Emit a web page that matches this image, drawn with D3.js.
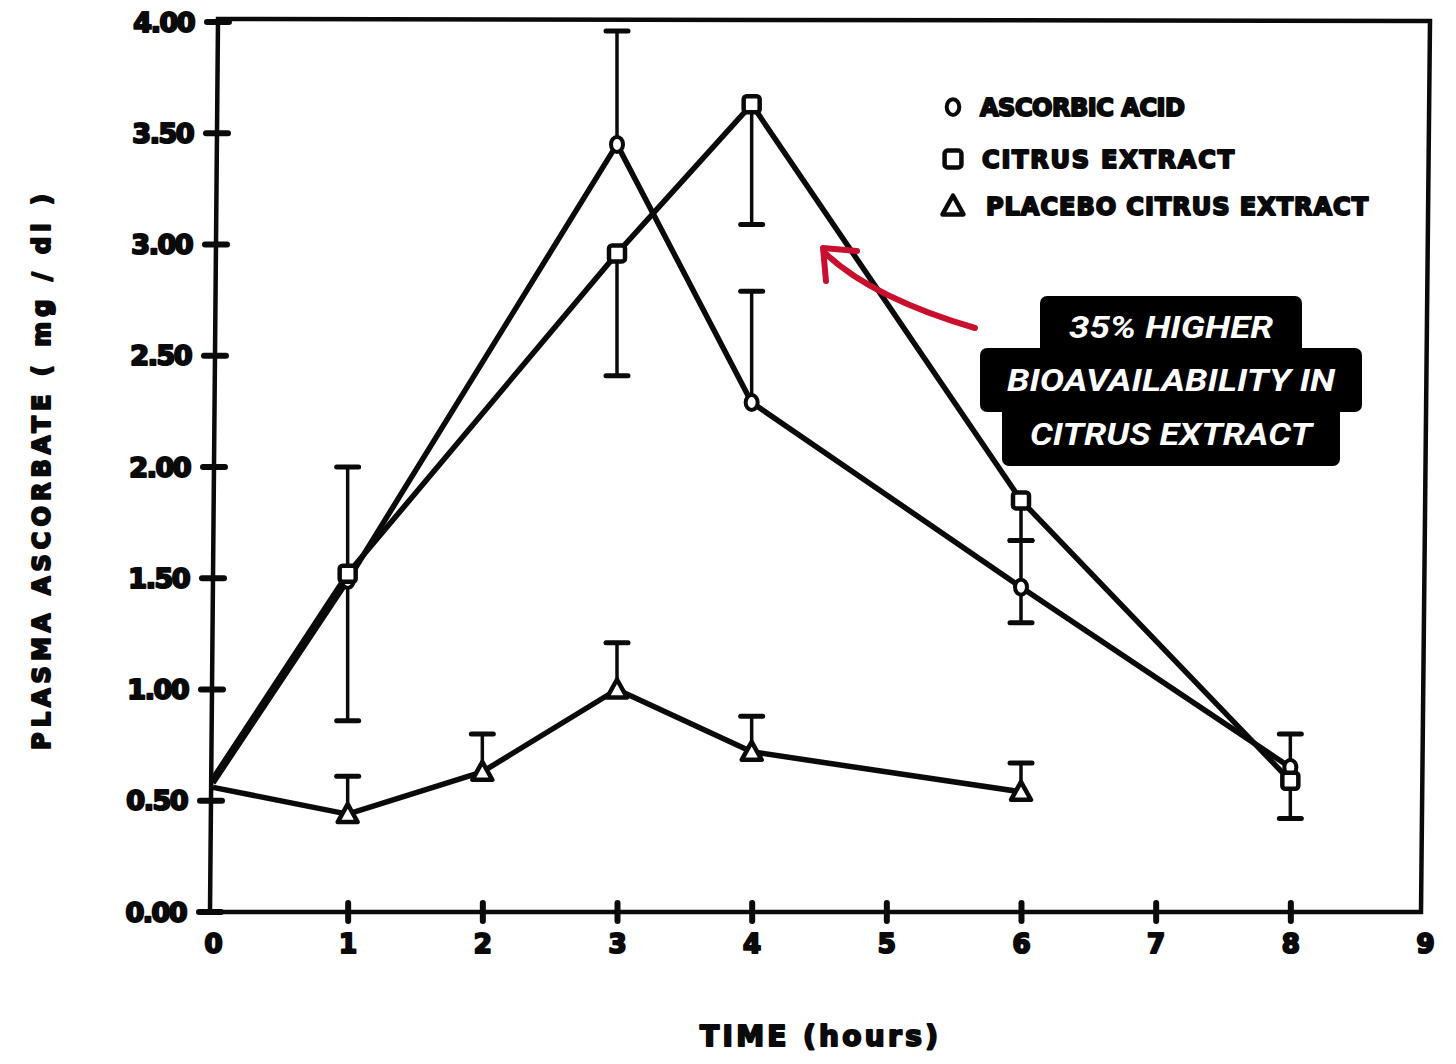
<!DOCTYPE html>
<html>
<head>
<meta charset="utf-8">
<script src="https://cdn.jsdelivr.net/npm/d3@7"></script>
<style>
  html, body { margin: 0; padding: 0; background: #fff; }
  svg { display: block; }
</style>
</head>
<body>
<svg id="chart" width="1456" height="1064"></svg>
<script>
// ---------- DATA ----------
const xTickValues = [0, 1, 2, 3, 4, 5, 6, 7, 8, 9];
const xTickLabels = ["0", "1", "2", "3", "4", "5", "6", "7", "8", "9"];
const yTickValues = [0, 0.5, 1, 1.5, 2, 2.5, 3, 3.5, 4];
const yTickLabels = ["0.00", "0.50", "1.00", "1.50", "2.00", "2.50", "3.00", "3.50", "4.00"];

const ascorbicTimes = [0, 1, 3, 4, 6, 8];
const ascorbicValues = [0.58, 1.49, 3.45, 2.29, 1.46, 0.65];
const ascorbicHigh = [null, 2.00, 3.96, 2.79, 1.67, 0.80];
const ascorbicLow = [null, 0.86, null, null, 1.30, null];

const citrusTimes = [0, 1, 3, 4, 6, 8];
const citrusValues = [0.60, 1.52, 2.96, 3.63, 1.85, 0.59];
const citrusHigh = [null, null, null, null, null, null];
const citrusLow = [null, null, 2.41, 3.09, 1.67, 0.42];

const placeboTimes = [0, 1, 2, 3, 4, 6];
const placeboValues = [0.56, 0.44, 0.63, 1.00, 0.72, 0.54];
const placeboHigh = [null, 0.61, 0.80, 1.21, 0.88, 0.67];
const placeboLow = [null, null, null, null, null, null];

const legendLabels = ["ASCORBIC ACID", "CITRUS EXTRACT", "PLACEBO CITRUS EXTRACT"];
const xAxisTitle = "TIME (hours)";
const yAxisTitle = "PLASMA ASCORBATE ( mg / dl )";
const calloutLines = ["35% HIGHER", "BIOAVAILABILITY IN", "CITRUS EXTRACT"];

// ---------- SETUP ----------
const svg = d3.select("#chart");
const x = d3.scaleLinear().domain([0, 9]).range([213, 1425]);
const y = d3.scaleLinear().domain([0, 4]).range([912, 22]);
const ink = "#0a0a0a";
const tickFont = "'DejaVu Sans', sans-serif";

// left axis is slightly skewed in the scan
const leftX = yy => 210 + (912 - yy) / (912 - 20) * 8;

function inkText(sel, w) {
  return sel.attr("fill", ink).attr("stroke", ink).attr("stroke-width", w)
    .attr("stroke-linejoin", "round").attr("paint-order", "stroke");
}

// ---------- FRAME ----------
svg.append("path")
  .attr("d", `M${leftX(19)},19 L1430,21 L1421,912 L210,912 Z`)
  .attr("fill", "none").attr("stroke", ink).attr("stroke-width", 4.5)
  .attr("stroke-linejoin", "miter");

// ---------- AXES ----------
const yAxis = d3.axisLeft(y).tickValues(yTickValues)
  .tickFormat((d, i) => yTickLabels[i]).tickSize(0).tickPadding(0);
const yg = svg.append("g").call(yAxis);
yg.select(".domain").remove();
yg.selectAll(".tick").each(function(d) {
  const g = d3.select(this);
  const yy = y(d);
  g.attr("transform", `translate(${leftX(yy)},${yy})`);
  g.select("line").attr("x1", -11).attr("x2", 11)
    .attr("stroke", ink).attr("stroke-width", 6).attr("stroke-linecap", "round");
  const t = g.select("text").attr("x", -24).attr("dy", "0.36em")
    .attr("font-family", tickFont).attr("font-weight", 700)
    .attr("font-size", 27).attr("letter-spacing", -1.5);
  inkText(t, 2.2);
});

const xAxis = d3.axisBottom(x).tickValues(xTickValues)
  .tickFormat((d, i) => xTickLabels[i]).tickSize(0).tickPadding(0);
const xg = svg.append("g").attr("transform", "translate(0,912)").call(xAxis);
xg.select(".domain").remove();
xg.selectAll(".tick").each(function(d) {
  const g = d3.select(this);
  g.select("line").attr("y1", -9).attr("y2", 9)
    .attr("stroke", ink).attr("stroke-width", 6).attr("stroke-linecap", "round")
    .attr("opacity", d === 0 || d === 9 ? 0 : 1);
  const t = g.select("text").attr("y", 32).attr("dy", "0.36em")
    .attr("font-family", tickFont).attr("font-weight", 700)
    .attr("font-size", 26);
  inkText(t, 2.2);
});

// axis titles
inkText(svg.append("text")
  .attr("transform", "translate(50,472) rotate(-90)")
  .attr("text-anchor", "middle")
  .attr("font-family", tickFont).attr("font-weight", 700).attr("font-size", 24)
  .attr("textLength", 556).attr("lengthAdjust", "spacing")
  .text(yAxisTitle), 2);

inkText(svg.append("text")
  .attr("x", 819).attr("y", 1046)
  .attr("text-anchor", "middle")
  .attr("font-family", tickFont).attr("font-weight", 700).attr("font-size", 28)
  .attr("textLength", 238).attr("lengthAdjust", "spacing")
  .text(xAxisTitle), 2);

// ---------- SERIES ----------
const series = [
  { times: ascorbicTimes, values: ascorbicValues, hi: ascorbicHigh, lo: ascorbicLow, shape: "circle" },
  { times: citrusTimes, values: citrusValues, hi: citrusHigh, lo: citrusLow, shape: "square" },
  { times: placeboTimes, values: placeboValues, hi: placeboHigh, lo: placeboLow, shape: "triangle" }
];

const line = d3.line().x(d => x(d.t)).y(d => y(d.v));
const capW = 11;

// error bars
series.forEach(s => {
  const g = svg.append("g");
  s.times.forEach((t, i) => {
    [s.hi[i], s.lo[i]].forEach(b => {
      if (b == null) return;
      g.append("line")
        .attr("x1", x(t)).attr("x2", x(t))
        .attr("y1", y(s.values[i])).attr("y2", y(b))
        .attr("stroke", ink).attr("stroke-width", 3.5);
      g.append("line")
        .attr("x1", x(t) - capW).attr("x2", x(t) + capW)
        .attr("y1", y(b)).attr("y2", y(b))
        .attr("stroke", ink).attr("stroke-width", 5).attr("stroke-linecap", "round");
    });
  });
});

// lines
series.forEach(s => {
  const pts = s.times.map((t, i) => ({ t, v: s.values[i] }));
  svg.append("path").datum(pts)
    .attr("d", line)
    .attr("fill", "none").attr("stroke", ink)
    .attr("stroke-width", 5.5).attr("stroke-linejoin", "round");
});

function drawMarker(g, shape, cx, cy, k = 1) {
  if (shape === "circle") {
    g.append("ellipse").attr("cx", cx).attr("cy", cy).attr("rx", 6 * k).attr("ry", 7.5 * k)
      .attr("fill", "#fff").attr("stroke", ink).attr("stroke-width", 4);
  } else if (shape === "square") {
    g.append("rect").attr("x", cx - 8 * k).attr("y", cy - 8 * k).attr("width", 16 * k).attr("height", 16 * k)
      .attr("rx", 3).attr("fill", "#fff").attr("stroke", ink).attr("stroke-width", 4.5);
  } else {
    g.append("path")
      .attr("d", `M${cx},${cy - 10 * k} L${cx + 10 * k},${cy + 8 * k} L${cx - 10 * k},${cy + 8 * k} Z`)
      .attr("fill", "#fff").attr("stroke", ink).attr("stroke-width", 4.5)
      .attr("stroke-linejoin", "round");
  }
}

series.forEach(s => {
  const g = svg.append("g");
  s.times.forEach((t, i) => {
    if (t === 0) return;
    drawMarker(g, s.shape, x(t), y(s.values[i]));
  });
});

// ---------- LEGEND ----------
const legendRows = [
  { shape: "circle", y: 107, textX: 980, len: 205 },
  { shape: "square", y: 159, textX: 982, len: 252 },
  { shape: "triangle", y: 206, textX: 986, len: 382 }
];
legendRows.forEach((r, i) => {
  const g = svg.append("g");
  drawMarker(g, r.shape, 953, r.y, 1.05);
  inkText(g.append("text").attr("x", r.textX).attr("y", r.y + 9)
    .attr("font-family", tickFont).attr("font-weight", 700).attr("font-size", 24)
    .attr("textLength", r.len).attr("lengthAdjust", "spacing")
    .text(legendLabels[i]), 2);
});

// ---------- CALLOUT ----------
const box = svg.append("g");
[[1040, 296, 262, 60], [980, 348, 382, 64], [1002, 404, 338, 62]].forEach(([bx, by, bw, bh]) => {
  box.append("rect").attr("x", bx).attr("y", by).attr("width", bw).attr("height", bh)
    .attr("rx", 7).attr("fill", "#000");
});
const calloutY = [338, 391, 445];
const calloutLen = [204, 328, 282];
calloutLines.forEach((t, i) => {
  box.append("text").attr("x", 1171).attr("y", calloutY[i])
    .attr("text-anchor", "middle")
    .attr("font-family", "Roboto, sans-serif").attr("font-style", "italic")
    .attr("font-weight", 700).attr("font-size", 32)
    .attr("textLength", calloutLen[i]).attr("lengthAdjust", "spacingAndGlyphs")
    .attr("fill", "#fff").text(t);
});

// arrow
const red = "#c8102e";
svg.append("path")
  .attr("d", "M975,328 Q873,298 826,254")
  .attr("fill", "none").attr("stroke", red).attr("stroke-width", 6).attr("stroke-linecap", "round");
svg.append("path")
  .attr("d", "M857,251 L823,248 L826,281")
  .attr("fill", "none").attr("stroke", red).attr("stroke-width", 6)
  .attr("stroke-linecap", "round").attr("stroke-linejoin", "round");
</script>
</body>
</html>
